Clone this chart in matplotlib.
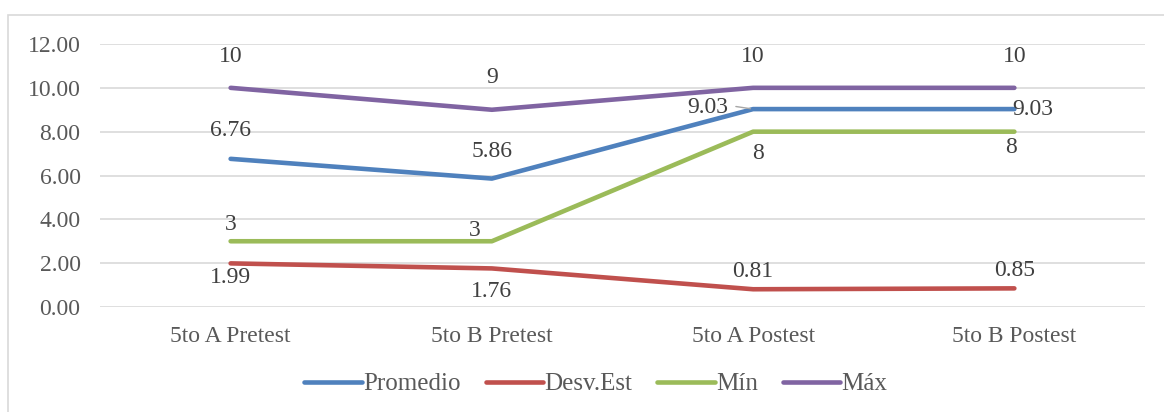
import matplotlib
matplotlib.use("Agg")
import matplotlib.pyplot as plt
from matplotlib.patches import Rectangle

plt.rcParams["font.family"] = ["Liberation Serif", "DejaVu Serif"]

categories = ["5to A Pretest", "5to B Pretest", "5to A Postest", "5to B Postest"]
promedio = [6.76, 5.86, 9.03, 9.03]
desv_est = [1.99, 1.76, 0.81, 0.85]
minimo = [3, 3, 8, 8]
maximo = [10, 9, 10, 10]

series = [
    ("Promedio", promedio, "#4F81BD", "{:.2f}"),
    ("Desv.Est", desv_est, "#C0504D", "{:.2f}"),
    ("Mín", minimo, "#9BBB59", "{:d}"),
    ("Máx", maximo, "#8064A2", "{:d}"),
]

# label offsets in pixels (dx, dy) for each point of each series
offsets = {
    "Promedio": [(0, 28), (0, 27), (-45, 2), (18, 0)],
    "Desv.Est": [(0, -14), (0, -23), (0, 18), (0, 18)],
    "Mín": [(0, 17), (-17, 11), (5, -22), (-3, -16)],
    "Máx": [(0, 31), (0, 32), (0, 31), (0, 31)],
}

fig = plt.figure(figsize=(11.64, 4.12), dpi=100)
fig.patches.append(Rectangle((8 / 1164, -0.1), 1.2, 1 - 15 / 412 + 0.1,
                             transform=fig.transFigure, fill=False,
                             edgecolor="#D9D9D9", linewidth=1.2))

ax = fig.add_axes([100 / 1164, 1 - 307 / 412, 1045 / 1164, 263 / 412])
x = list(range(len(categories)))

for name, vals, color, fmt in series:
    ax.plot(x, vals, color=color, linewidth=3.3, solid_capstyle="round",
            label=name, zorder=3)
    for i, v in enumerate(vals):
        dx, dy = offsets[name][i]
        ax.annotate(fmt.format(v), (i, v), xytext=(dx, dy),
                    textcoords="offset pixels", ha="center", va="center",
                    fontsize=17, color="#404040", zorder=4)

# small leader line for the 9.03 label
ax.annotate("", (2, promedio[2]), xytext=(-20, 3), textcoords="offset pixels",
            arrowprops=dict(arrowstyle="-", color="#A6A6A6", lw=1))

ax.set_xlim(-0.5, 3.5)
ax.set_ylim(0, 12)
ax.set_yticks([0, 2, 4, 6, 8, 10, 12])
ax.set_yticklabels([f"{t:.2f}" for t in ax.get_yticks()])
ax.set_xticks(x)
ax.set_xticklabels(categories)
ax.grid(axis="y", color="#D9D9D9", linewidth=1.2)
ax.set_axisbelow(True)
for s in ax.spines.values():
    s.set_visible(False)
ax.tick_params(length=0, labelsize=17, labelcolor="#595959")
ax.tick_params(axis="y", pad=14)
ax.tick_params(axis="x", pad=14)

fig.legend(loc="center", bbox_to_anchor=(0.512, 1 - 384 / 412), ncol=4,
           frameon=False, fontsize=18, handlelength=2.3, handletextpad=0.05,
           columnspacing=1.0, labelcolor="#595959")

fig.savefig("out.png", dpi=100)
